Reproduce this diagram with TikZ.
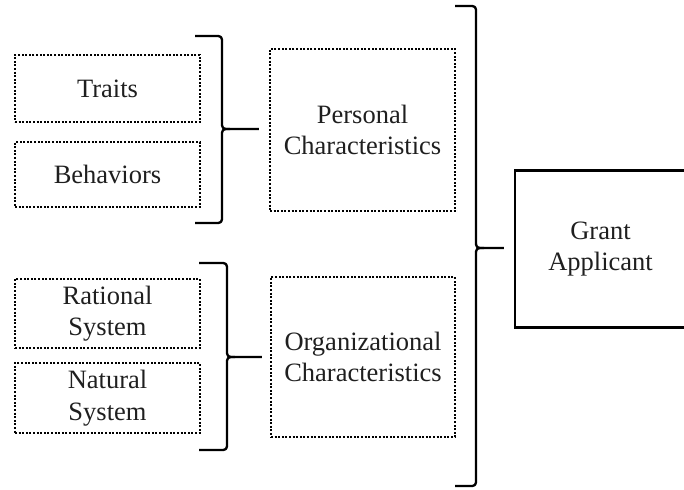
\documentclass[tikz,border=0pt]{standalone}
\usepackage{fontspec}
\setmainfont{Liberation Serif}
\begin{document}
\begin{tikzpicture}[x=1pt,y=-1pt,
  dotbox/.style={draw, line width=2.1pt, dash pattern=on 2pt off 1.6pt,
    inner sep=0pt, align=center, font=\fontsize{26.5}{31.5}\selectfont, text=black!88},
  solidbox/.style={draw, line width=2.3pt, inner sep=0pt, align=center,
    font=\fontsize{26.5}{31.5}\selectfont, text=black!88},
  brace/.style={draw, line width=2.3pt, line join=round}]
\useasboundingbox (0,0) rectangle (684,489);

\node[dotbox, minimum width=185pt, minimum height=67pt] (traits) at (107.5,88.5) {Traits};
\node[dotbox, minimum width=185pt, minimum height=65pt] (behav) at (107.5,174.5) {Behaviors};
\node[dotbox, minimum width=185pt, minimum height=69pt] (rational) at (107.5,313.5) {Rational\\System};
\node[dotbox, minimum width=185pt, minimum height=70pt] (natural) at (107.5,398) {Natural\\System};
\node[dotbox, minimum width=185pt, minimum height=162pt] (personal) at (362.5,130) {Personal\\Characteristics};
\node[dotbox, minimum width=184pt, minimum height=160pt] (org) at (363,357) {Organizational\\Characteristics};
\node[solidbox, minimum width=171pt, minimum height=157pt] (grant) at (600.5,249) {Grant\\Applicant};

% brace 1
\coordinate (b1t) at (195,36);
\coordinate (b1b) at (195,223);
\coordinate (b1m) at (222,129);
\draw[brace] (b1t) -- (214,36) .. controls (222,36) .. (222,44) -- (222,121)
  .. controls (222,129) .. (230,129) -- ([xshift=-10pt]personal.west |- b1m);
\draw[brace] (b1b) -- (214,223) .. controls (222,223) .. (222,215) -- (222,137)
  .. controls (222,129) .. (230,129);

% brace 2
\coordinate (b2t) at (199,263);
\coordinate (b2b) at (199,450);
\coordinate (b2m) at (227,357);
\draw[brace] (b2t) -- (219,263) .. controls (227,263) .. (227,271) -- (227,349)
  .. controls (227,357) .. (235,357) -- ([xshift=-8pt]org.west |- b2m);
\draw[brace] (b2b) -- (219,450) .. controls (227,450) .. (227,442) -- (227,365)
  .. controls (227,357) .. (235,357);

% big brace
\coordinate (b3t) at (455,6);
\coordinate (b3b) at (455,486);
\coordinate (b3m) at (476,248);
\draw[brace] (b3t) -- (468,6) .. controls (476,6) .. (476,14) -- (476,240)
  .. controls (476,248) .. (484,248) -- ([xshift=-10pt]grant.west |- b3m);
\draw[brace] (b3b) -- (468,486) .. controls (476,486) .. (476,478) -- (476,256)
  .. controls (476,248) .. (484,248);
\end{tikzpicture}
\end{document}
